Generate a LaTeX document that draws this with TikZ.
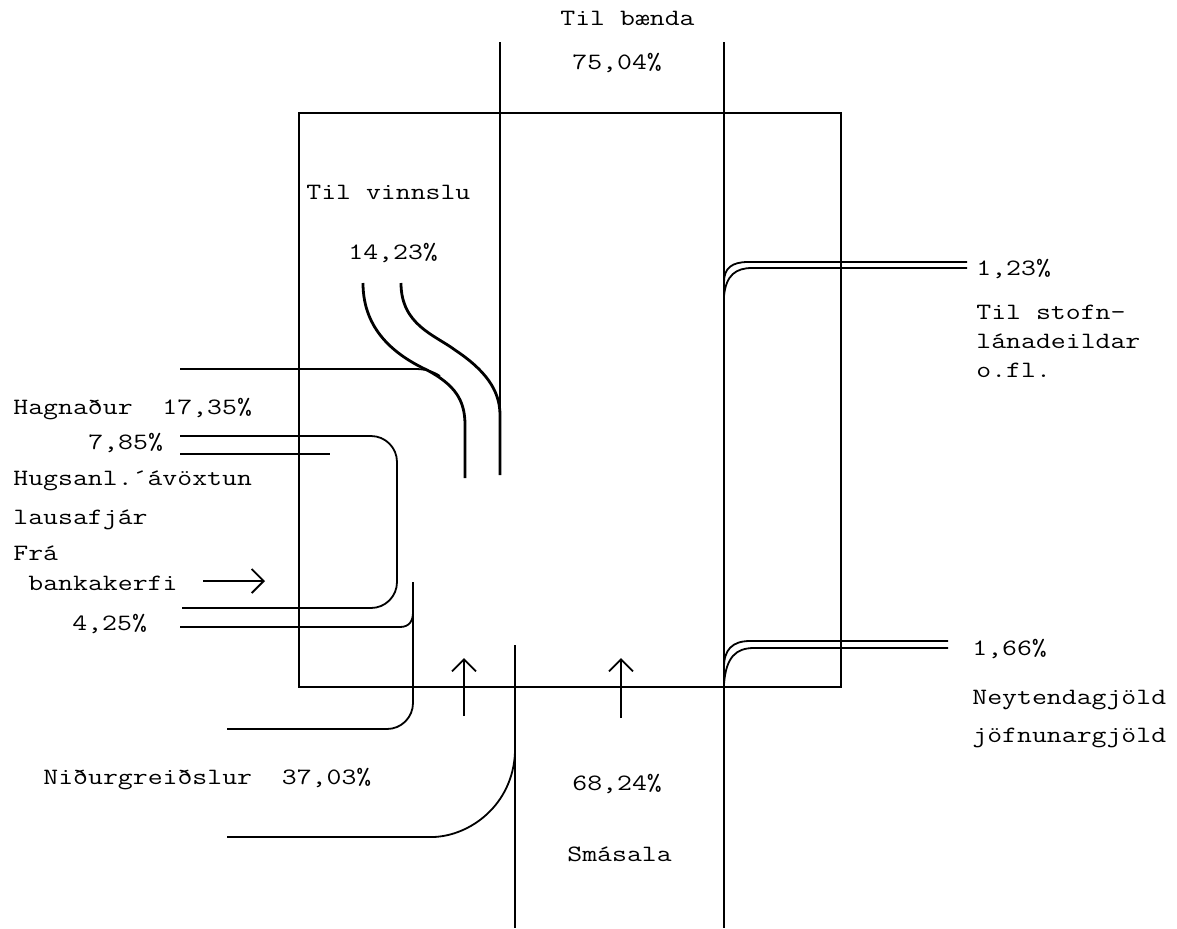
\documentclass[tikz,border=0pt]{standalone}
\usepackage{fontspec}
\usepackage{graphicx}
\usetikzlibrary{arrows.meta}
\newcommand\tw[1]{\scalebox{1.237}[1]{#1}}
\begin{document}
\begin{tikzpicture}[x=0.5pt,y=-0.5pt,
  ln/.style={line width=0.9pt},
  flow/.style={line width=1.4pt},
  txt/.style={inner sep=0pt, anchor=base west, font=\fontsize{11.7}{14}\selectfont\ttfamily},
  arr/.style={ln,-{Straight Barb[length=6pt,width=12pt]}}]
\useasboundingbox (0,0) rectangle (1177,928);
% main box
\draw[ln] (299,113) rectangle (841,687);
% vertical channels
\draw[ln] (500,42) -- (500,410);
\draw[ln] (724,42) -- (724,928);
\draw[ln] (515,645) -- (515,928);
% Til vinnslu flows
\draw[flow] (363,283) .. controls (363,330) and (395,355) .. (427,370) .. controls (455,385) and (465,400) .. (465,425) -- (465,478);
\draw[flow] (401,283) .. controls (401,325) and (435,335) .. (455,350) .. controls (485,370) and (500,390) .. (500,415) -- (500,475);
\draw[ln] (180,369) -- (415,369) .. controls (425,369) and (432,371) .. (440,376);
% Hagnadur bracket
\draw[ln,rounded corners=13] (180,436) -- (397,436) -- (397,608) -- (182,608);
\draw[ln] (180,454) -- (330,454);
% 4,25%
\draw[ln] (180,627) -- (400,627) .. controls (410,627) and (413,620) .. (413,612);
\draw[ln,rounded corners=13] (413,582) -- (413,729) -- (227,729);
% Nidurgreidslur
\draw[ln] (227,837) -- (433,837) .. controls (470,836) and (513,805) .. (515,752);
% right outflows
\draw[ln] (724,282) .. controls (724,268) and (732,262) .. (748,262) -- (967,262);
\draw[ln] (724,296) .. controls (726,275) and (736,268) .. (752,268) -- (967,268);
\draw[ln] (724,667) .. controls (724,650) and (732,641) .. (750,641) -- (948,641);
\draw[ln] (724,684) .. controls (726,657) and (736,648) .. (754,648) -- (948,648);
% arrows
\coordinate (a1s) at (203,581); \coordinate (a1e) at (265,581);
\coordinate (a2s) at (464,716); \coordinate (a2e) at (464,658);
\coordinate (a3s) at (621,718); \coordinate (a3e) at (621,658);
\draw[arr] (a1s) -- (a1e);
\draw[arr] (a2s) -- (a2e);
\draw[arr] (a3s) -- (a3e);
% texts
\node[txt] (tb) at (560,25) {\tw{Til bænda}};
\node[txt] (tbp) at (572,69) {\tw{75,04\%}};
\node[txt] (tv) at (306,199) {\tw{Til vinnslu}};
\node[txt] (tvp) at (348,259) {\tw{14,23\%}};
\node[txt] (r1) at (976,275) {\tw{1,23\%}};
\node[txt] (r1a) at (976,319) {\tw{Til stofn-}};
\node[txt] (r1b) at (976,348) {\tw{lánadeildar}};
\node[txt] (r1c) at (976,377) {\tw{o.fl.}};
\node[txt] (h) at (13,414) {\tw{Hagnaður\ \ 17,35\%}};
\node[txt] (hp) at (88,449) {\tw{7,85\%}};
\node[txt] (hu) at (13,485) {\tw{Hugsanl.´ávöxtun}};
\node[txt] (la) at (13,524) {\tw{lausafjár}};
\node[txt] (fr) at (13,560) {\tw{Frá}};
\node[txt] (bk) at (28,590) {\tw{bankakerfi}};
\node[txt] (bp) at (72,630) {\tw{4,25\%}};
\node[txt] (ni) at (43,784) {\tw{Niðurgreiðslur\ \ 37,03\%}};
\node[txt] (sp) at (572,790) {\tw{68,24\%}};
\node[txt] (sm) at (567,861) {\tw{Smásala}};
\node[txt] (r2) at (972,655) {\tw{1,66\%}};
\node[txt] (r2a) at (972,704) {\tw{Neytendagjöld}};
\node[txt] (r2b) at (972,742) {\tw{jöfnunargjöld}};
\end{tikzpicture}
\end{document}
